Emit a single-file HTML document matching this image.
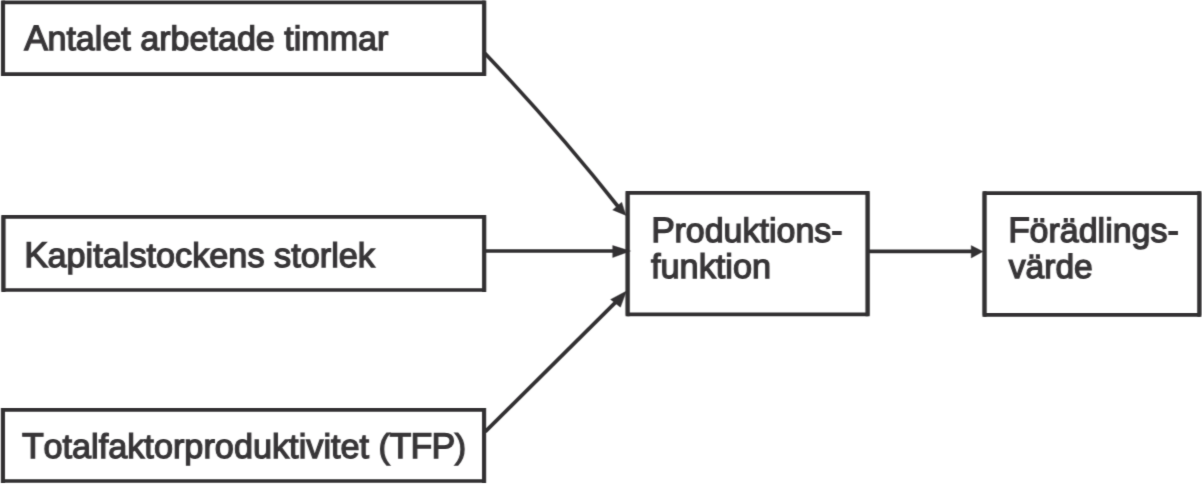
<!DOCTYPE html>
<html><head><meta charset="utf-8">
<style>
html,body{margin:0;padding:0;background:#fff;}
body{width:1202px;height:484px;overflow:hidden;position:relative;}
svg{position:absolute;left:0;top:0;}
text{font-family:"Liberation Sans",sans-serif;text-rendering:geometricPrecision;font-kerning:none;fill:#383638;stroke:#383638;stroke-width:1.3px;}
</style></head><body>
<svg width="1202" height="484" viewBox="0 0 1202 484"><defs><filter id="soft" x="0" y="0" width="1202" height="484" filterUnits="userSpaceOnUse" color-interpolation-filters="sRGB"><feConvolveMatrix order="3" kernelMatrix="0.016 0.068 0.016 0.128 0.544 0.128 0.016 0.068 0.016" edgeMode="none"/></filter></defs><g filter="url(#soft)">
<g fill="none" stroke="#323032" stroke-width="3.7" stroke-linejoin="round">
<rect x="3" y="2.4" width="481.2" height="71.8"/>
<rect x="3.4" y="216.9" width="480.8" height="73.1"/>
<rect x="2.9" y="409.8" width="481.2" height="71.2"/>
<rect x="627.6" y="192.8" width="240" height="121.6"/>
<rect x="984.5" y="193.2" width="214.9" height="121.6"/>
<path d="M483.7,52 Q557.8,130 619.2,208"/>
<line x1="486" y1="251" x2="618" y2="251"/>
<path d="M485.3,431.6 L620.8,297.1"/>
<line x1="869" y1="251.3" x2="975" y2="251.3"/>
</g>
<g stroke="#323032" stroke-width="4.1" fill="none">
<path d="M3,0.6V76 M484.2,0.6V76 M3.4,215V291.9 M484.2,215V291.9 M2.9,407.9V482.9 M484.1,407.9V482.9 M627.6,190.9V316.3 M867.6,190.9V316.3 M984.5,191.3V316.7 M1199.4,191.3V316.7"/>
</g>
<g fill="#323032" stroke="#323032" stroke-width="0.4" stroke-linejoin="round">
<polygon points="626,215.5 612.7,209.9 621.7,202.2"/>
<polygon points="630.5,251 612.7,245.5 612.7,257.6"/>
<polygon points="626.5,291 610.6,299.4 620.4,307.2"/>
<polygon points="983,251.5 971.2,245.6 971.2,258"/>
</g>
<text x="24.7" y="50.2" font-size="34.1"><tspan font-size="35.55" dx="-0.48">A</tspan><tspan dx="-0.48">ntalet arbetade timmar</tspan></text>
<text x="24.66" y="266.6" font-size="34.25"><tspan font-size="35.70" dx="-0.48">K</tspan><tspan dx="-0.48">apitalstockens storlek</tspan></text>
<text x="22.47" y="457.8" font-size="34.27"><tspan font-size="35.72" dx="-0.44">T</tspan><tspan dx="-0.44">otalfaktorproduktivitet (</tspan><tspan font-size="35.72" dx="-0.44">T</tspan><tspan font-size="35.72" dx="-0.89">F</tspan><tspan font-size="35.72" dx="-0.93">P</tspan><tspan dx="-0.48">)</tspan></text>
<text x="651.76" y="241.8" font-size="34.0"><tspan font-size="35.45" dx="-0.48">P</tspan><tspan dx="-0.48">roduktions-</tspan></text>
<text x="651" y="277.6" font-size="34.3">funktion</text>
<text x="1008.76" y="241.9" font-size="34.0"><tspan font-size="35.45" dx="-0.44">F</tspan><tspan dx="-0.44">örädlings-</tspan></text>
<text x="1008.74" y="277.7" font-size="33.6">värde</text>
</g></svg>
</body></html>
